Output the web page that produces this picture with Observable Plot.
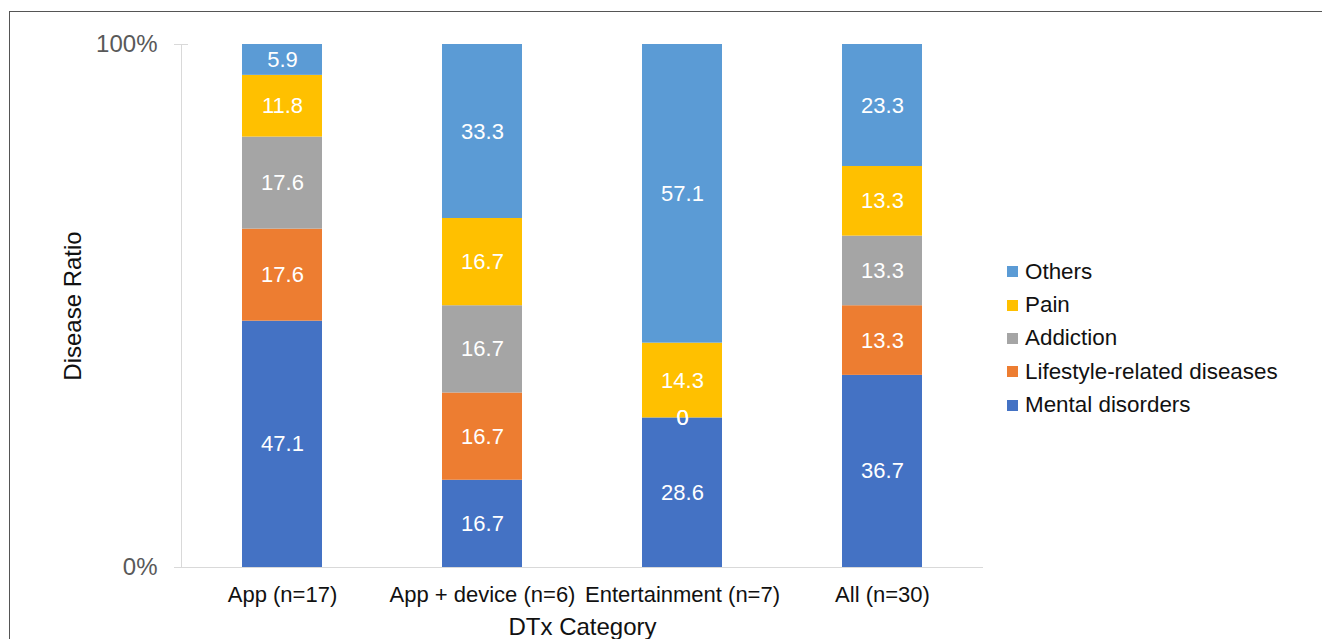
<!DOCTYPE html>
<html>
<head>
<meta charset="utf-8">
<script src="https://cdn.jsdelivr.net/npm/d3@7"></script>
<script src="https://cdn.jsdelivr.net/npm/@observablehq/plot@0.6"></script>
<style>
  html, body { margin: 0; padding: 0; background: #fff; }
  #wrap { position: relative; width: 1322px; height: 639px; overflow: hidden; font-family: "Liberation Sans", Arial, sans-serif; }
  #border { position: absolute; left: 9px; top: 11px; right: -10px; bottom: -10px; border-top: 1.5px solid #555; border-left: 1.5px solid #555; }
  #chart { position: absolute; left: 0; top: 0; }
  #legend { position: absolute; left: 1007px; top: 255px; }
  .row { display: flex; align-items: center; height: 33.4px; font-size: 22.4px; color: #111; }
  .sw { width: 11px; height: 11px; margin-right: 7px; }
</style>
</head>
<body>
<div id="wrap">
  <div id="border"></div>
  <div id="chart"></div>
  <div id="legend"></div>
</div>
<script>
// DTx categories along the x axis
const categories = ["App (n=17)", "App + device (n=6)", "Entertainment (n=7)", "All (n=30)"];

// Disease groups, bottom of each stack first
const series = ["Mental disorders", "Lifestyle-related diseases", "Addiction", "Pain", "Others"];
const colors = ["#4472C4", "#ED7D31", "#A5A5A5", "#FFC000", "#5B9BD5"];

// Share (%) of each disease group per category
const mental    = [47.1, 16.7, 28.6, 36.7];
const lifestyle = [17.6, 16.7, 0,    13.3];
const addiction = [17.6, 16.7, 0,    13.3];
const pain      = [11.8, 16.7, 14.3, 13.3];
const others    = [5.9,  33.3, 57.1, 23.3];

const yTicks = [0, 1];
const xLabel = "DTx Category";
const yLabel = "Disease Ratio";

const seriesValues = [mental, lifestyle, addiction, pain, others];
const rows = [];
series.forEach((s, i) => {
  categories.forEach((c, j) => {
    rows.push({category: c, series: s, value: seriesValues[i][j]});
  });
});

const stackOpts = {x: "category", y: "value", z: "series", order: series, offset: "normalize"};

const chart = Plot.plot({
  width: 1322,
  height: 639,
  marginLeft: 181,
  marginRight: 339,
  marginTop: 44,
  marginBottom: 72,
  style: {fontFamily: '"Liberation Sans", Arial, sans-serif', background: "transparent"},
  x: {domain: categories, paddingInner: 0.6, paddingOuter: 0.3},
  y: {domain: [0, 1]},
  color: {domain: series, range: colors},
  marks: [
    Plot.frame({anchor: "left", stroke: "#d9d9d9"}),
    Plot.ruleY([0], {stroke: "#d9d9d9"}),
    Plot.axisY(yTicks, {
      tickSize: 7, tickPadding: 17, fontSize: 24,
      tickFormat: d3.format(".0%"), stroke: "#d9d9d9", fill: "#595959", label: null
    }),
    Plot.axisY([1], {tickSize: -7, tickFormat: () => "", stroke: "#d9d9d9", label: null}),
    Plot.axisX({tickSize: 0, tickPadding: 19, fontSize: 22, fill: "#111", label: null}),
    Plot.barY(rows, Plot.stackY({...stackOpts, fill: "series", inset: 0})),
    Plot.text(rows, Plot.stackY({...stackOpts, text: d => String(d.value), fill: "white", fontSize: 22})),
    Plot.text([xLabel], {frameAnchor: "bottom", dy: 67, fontSize: 24, fill: "#111"}),
    Plot.text([yLabel], {frameAnchor: "left", textAnchor: "middle", dx: -108, rotate: -90, fontSize: 24, fill: "#111"})
  ]
});
document.getElementById("chart").appendChild(chart);

// Legend, top entry first as in the stack
const legend = d3.select("#legend");
series.slice().reverse().forEach(s => {
  const row = legend.append("div").attr("class", "row");
  row.append("div").attr("class", "sw").style("background", colors[series.indexOf(s)]);
  row.append("span").text(s);
});
</script>
</body>
</html>
